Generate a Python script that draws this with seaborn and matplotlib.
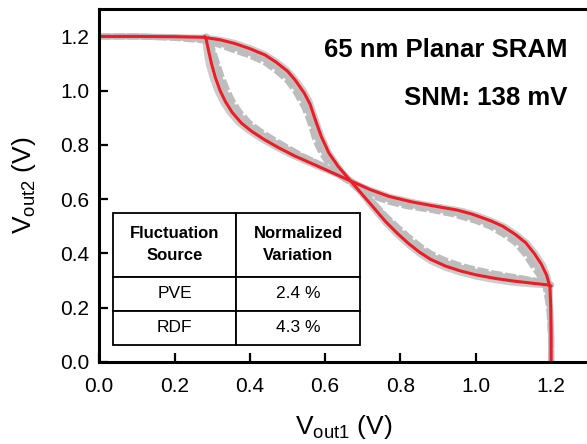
import matplotlib
matplotlib.use("Agg")
import matplotlib.pyplot as plt
import seaborn as sns

sns.set_style("ticks")
plt.rcParams['font.family'] = ['Liberation Sans', 'DejaVu Sans']
plt.rcParams['mathtext.fontset'] = 'custom'
plt.rcParams['mathtext.rm'] = 'Liberation Sans'
plt.rcParams['mathtext.it'] = 'Liberation Sans:italic'
for k in ['text.color', 'axes.labelcolor', 'xtick.color', 'ytick.color', 'axes.edgecolor']:
    plt.rcParams[k] = 'black'

# inverter transfer curve Vout2 = f(Vout1); the second inverter is the mirror x <-> y
v_in = [0.00, 0.10, 0.20, 0.276, 0.32, 0.36, 0.40, 0.44, 0.47, 0.50, 0.52, 0.545, 0.56, 0.575,
        0.59, 0.61, 0.635, 0.667, 0.70, 0.72, 0.76, 0.79, 0.82, 0.85, 0.88, 0.92, 0.96, 1.00,
        1.05, 1.10, 1.15, 1.19, 1.20]
v_nominal = [1.200, 1.200, 1.199, 1.197, 1.188, 1.174, 1.155, 1.132, 1.105, 1.072, 1.040, 0.990,
             0.950, 0.888, 0.830, 0.770, 0.720, 0.668, 0.615, 0.583, 0.518, 0.476, 0.438, 0.405,
             0.378, 0.353, 0.335, 0.321, 0.308, 0.298, 0.290, 0.284, 0.280]
# fluctuation samples (grey)
v_var1 = [1.200, 1.200, 1.197, 1.190, 1.175, 1.159, 1.139, 1.116, 1.087, 1.051, 1.016, 0.959,
          0.910, 0.843, 0.790, 0.744, 0.708, 0.668, 0.624, 0.597, 0.534, 0.491, 0.452, 0.419,
          0.391, 0.365, 0.347, 0.332, 0.319, 0.309, 0.299, 0.290, 0.284]
v_var2 = [1.200, 1.200, 1.195, 1.186, 1.169, 1.149, 1.130, 1.105, 1.075, 1.038, 1.001, 0.939,
          0.885, 0.815, 0.772, 0.730, 0.695, 0.662, 0.622, 0.598, 0.538, 0.499, 0.462, 0.428,
          0.399, 0.373, 0.354, 0.340, 0.325, 0.313, 0.301, 0.292, 0.284]
v_var3 = [1.200, 1.200, 1.200, 1.199, 1.192, 1.180, 1.161, 1.138, 1.112, 1.080, 1.049, 1.002,
          0.965, 0.903, 0.842, 0.778, 0.725, 0.668, 0.610, 0.574, 0.508, 0.466, 0.428, 0.395,
          0.368, 0.343, 0.325, 0.311, 0.298, 0.288, 0.282, 0.279, 0.276]

fig = plt.figure(figsize=(5.87, 4.44), dpi=100)
ax = fig.add_axes([0.169, 0.185, 0.834, 0.794])

grey = [(v_var3, '#cccccc', 3.0, None), (v_var1, '#c0c0c0', 4.5, None),
        (v_var2, '#bdbdbd', 4.5, [1.8, 0.45])]
for ys, col, lw, dash in grey:
    sns.lineplot(x=v_in, y=ys, ax=ax, color=col, lw=lw, sort=False, estimator=None)
    if dash: ax.lines[-1].set_dashes(dash)
    sns.lineplot(x=ys, y=v_in, ax=ax, color=col, lw=lw, sort=False, estimator=None)
    if dash: ax.lines[-1].set_dashes(dash)

sns.lineplot(x=v_in, y=v_nominal, ax=ax, color='#ee1c25', lw=2.2, sort=False, estimator=None)
sns.lineplot(x=v_nominal, y=v_in, ax=ax, color='#ee1c25', lw=2.2, sort=False, estimator=None)

ax.set_xlim(0, 1.3)
ax.set_ylim(0, 1.3)
ticks = [0.0, 0.2, 0.4, 0.6, 0.8, 1.0, 1.2]
ax.set_xticks(ticks)
ax.set_yticks(ticks)
ax.set_xticklabels([f"{t:.1f}" for t in ticks])
ax.set_yticklabels([f"{t:.1f}" for t in ticks])
ax.tick_params(direction='in', length=6.5, width=1.6, labelsize=15, pad=7)
ax.tick_params(axis='x', pad=11)
for s in ax.spines.values():
    s.set_linewidth(2.2)
ax.set_xlabel(r'V$_{\rm out1}$ (V)', fontsize=19, labelpad=12)
ax.set_ylabel(r'V$_{\rm out2}$ (V)', fontsize=19, labelpad=16)

ax.text(0.957, 0.885, '65 nm Planar SRAM', transform=ax.transAxes, ha='right', va='center',
        fontsize=18.5, fontweight='bold')
ax.text(0.957, 0.749, 'SNM: 138 mV', transform=ax.transAxes, ha='right', va='center',
        fontsize=18.5, fontweight='bold')

cells = [["Fluctuation\nSource", "Normalized\nVariation"], ["PVE", "2.4 %"], ["RDF", "4.3 %"]]
tbl = ax.table(cellText=cells, cellLoc='center', bbox=[0.0285, 0.0485, 0.5035, 0.3745])
tbl.auto_set_font_size(False)
tbl.set_fontsize(12.5)
for (r, c), cell in tbl.get_celld().items():
    cell.set_height(1.88 if r == 0 else 1.0)
    cell.set_linewidth(1.3)
    cell.set_facecolor('white')
    if r == 0:
        cell.get_text().set_fontweight('bold')
        cell.get_text().set_fontsize(12)
        cell.get_text().set_linespacing(1.6)

plt.savefig("out.png", dpi=100)
